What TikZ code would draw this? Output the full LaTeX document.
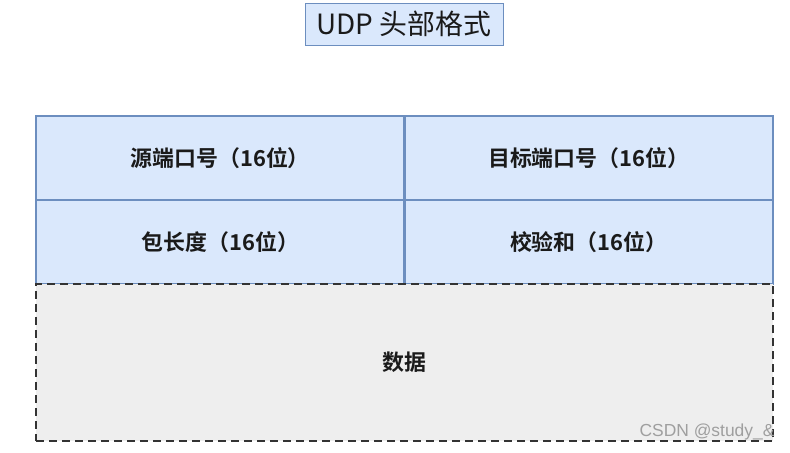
\documentclass[tikz,border=0pt]{standalone}
\usepackage{fontspec}
\setmainfont{Noto Sans CJK SC}[BoldFont={Noto Sans CJK SC Bold}]
\newfontfamily\markfont{Liberation Sans}
\usetikzlibrary{positioning}
\definecolor{FieldClr}{HTML}{DAE8FC}
\definecolor{FieldLine}{HTML}{6C8EBF}
\definecolor{DataClr}{HTML}{EEEEEE}
\definecolor{DataLine}{HTML}{333333}
\definecolor{TextClr}{HTML}{1A1A1A}

\begin{document}
\begin{tikzpicture}[x=1bp,y=-1bp,
  field/.style={draw=FieldLine,fill=FieldClr,line width=2.2bp,
    minimum width=368.5bp,minimum height=84bp,inner sep=0pt,outer sep=0pt,
    text=TextClr,font=\fontsize{22}{22}\selectfont\bfseries},
  datafield/.style={draw=DataLine,fill=DataClr,line width=2.2bp,
    dash pattern=on 8bp off 5bp,minimum width=737bp,minimum height=157bp,
    inner sep=0pt,outer sep=0pt,text=TextClr,
    font=\fontsize{22}{22}\selectfont\bfseries},
  caption/.style={draw=FieldLine,fill=FieldClr,line width=0.8bp,
    minimum width=198bp,minimum height=42bp,inner sep=0pt,
    text=TextClr,font=\fontsize{28}{28}\selectfont}]
\useasboundingbox (0,0) rectangle (790,453);

\node[caption] (title) at (404,24) {UDP 头部格式};

\node[field,anchor=north west] (src) at (36,116) {源端口号（16位）};
\node[field,right=0pt of src] (dst) {目标端口号（16位）};
\node[field,below=0pt of src] (len) {包长度（16位）};
\node[field,below=0pt of dst] (sum) {校验和（16位）};

\node[datafield,anchor=north west] (data) at (len.south west) {数据};

\node[anchor=east,text=gray!75,font=\markfont\fontsize{17.5}{17.5}\selectfont]
  (mark) at (778,432) {CSDN @study\_\&};

\end{tikzpicture}
\end{document}
